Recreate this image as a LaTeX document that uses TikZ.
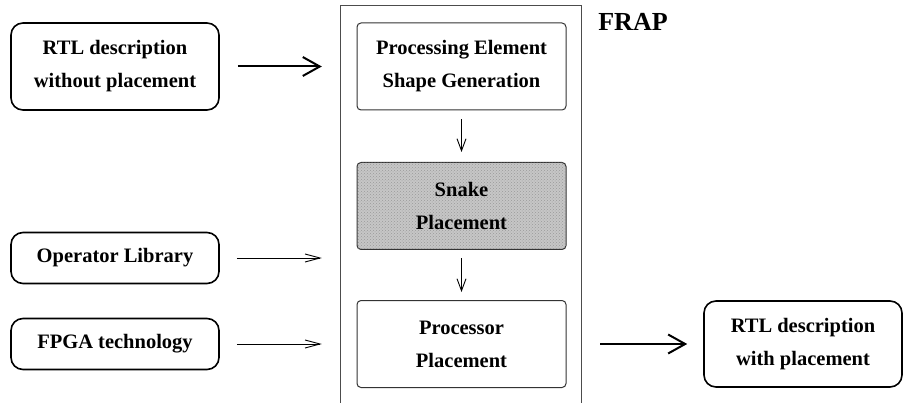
\documentclass[tikz,border=0pt]{standalone}
\usepackage{fontspec}
\setmainfont{Liberation Serif}
\usetikzlibrary{arrows.meta,patterns}
\begin{document}
\begin{tikzpicture}[x=1pt,y=-1pt,
  txt/.style={font=\fontsize{20.5}{33}\selectfont\bfseries, align=center, inner sep=0pt},
  outbox/.style={txt, draw=black, line width=1.6pt, rounded corners=12pt},
  inbox/.style={txt, draw=black!80, line width=1pt, rounded corners=4pt, minimum width=209pt, minimum height=87pt},
  bigarrow/.style={line width=2pt, -{Straight Barb[length=17pt,width=19pt,line width=2pt]}},
  thinarrow/.style={line width=0.9pt, -{Straight Barb[length=15pt,width=8pt,line width=0.9pt]}},
  varrow/.style={line width=0.9pt, -{Straight Barb[length=12pt,width=9pt,line width=0.9pt]}}
]
\useasboundingbox[fill=white] (0,0) rectangle (904,403);

% outer frame
\node[minimum width=240pt, minimum height=414pt, inner sep=0pt] (frame) at (461,213) {};
\draw[black!70, line width=0.9pt] (frame.south west) -- (frame.north west) -- (frame.north east) -- (frame.south east);

\node[txt, font=\fontsize{26}{30}\selectfont\bfseries] (frap) at (633,22) {FRAP};

% left boxes
\node[outbox, minimum width=208pt, minimum height=87pt] (rtlin) at (115,66.5) {RTL description\\without placement};
\node[outbox, minimum width=208pt, minimum height=51pt] (oplib) at (115,258) {Operator Library};
\node[outbox, minimum width=208pt, minimum height=51pt] (fpga) at (115,344) {FPGA technology};

% right box
\node[outbox, minimum width=198pt, minimum height=86pt] (rtlout) at (803,344) {RTL description\\with placement};

% inner boxes
\node[inbox] (pe) at (461.5,66.5) {Processing Element\\Shape Generation};
\node[inbox, fill=gray!45, postaction={pattern=crosshatch dots, pattern color=gray!80}] (snake) at (461.5,206) {Snake\\Placement};
\node[inbox] (proc) at (461.5,344) {Processor\\Placement};

% connectors
\draw[bigarrow, shorten <=18pt, shorten >=19pt] (rtlin.east) -- (rtlin.east -| frame.west);
\draw[thinarrow, shorten <=17pt, shorten >=19pt] (oplib.east) -- (oplib.east -| frame.west);
\draw[thinarrow, shorten <=17pt, shorten >=19pt] (fpga.east) -- (fpga.east -| frame.west);
\draw[bigarrow, shorten <=19pt, shorten >=16pt] (proc.east -| frame.east) -- (rtlout.west);
\draw[varrow, shorten <=9pt, shorten >=10pt] (pe.south) -- (snake.north);
\draw[varrow, shorten <=8pt, shorten >=8pt] (snake.south) -- (proc.north);
\end{tikzpicture}
\end{document}
